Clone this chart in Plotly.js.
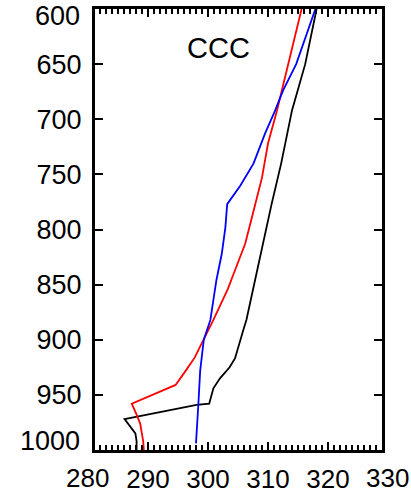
<!DOCTYPE html>
<html>
<head>
<meta charset="utf-8">
<script src="https://cdn.plot.ly/plotly-3.0.1.min.js"></script>
<style>
  html, body { margin: 0; padding: 0; background: #fff; }
  #chart { width: 411px; height: 496px; }
</style>
</head>
<body>
<div id="chart"></div>
<script>
// Potential temperature profiles (K) against pressure (hPa)
const presBlack  = [600, 650, 692, 740, 777, 813, 849, 882, 891, 900, 917, 925, 935, 944, 953, 958, 959, 972, 985, 992, 1000];
const thetaBlack = [318.1, 316.2, 314.0, 312.2, 310.6, 309.2, 307.8, 306.4, 305.9, 305.4, 304.5, 303.6, 302.0, 300.9, 300.4, 300.2, 298.1, 286.1, 287.9, 288.1, 288.1];

const presRed  = [600, 650, 692, 722, 753, 783, 813, 837, 854, 882, 900, 916, 928, 941, 947, 958, 968, 976, 992, 1000];
const thetaRed = [315.6, 313.4, 311.5, 310.0, 309.0, 307.6, 306.2, 304.5, 303.3, 300.9, 299.2, 297.8, 296.3, 294.6, 292.0, 287.3, 288.1, 288.7, 289.2, 289.3];

const presBlue  = [600, 650, 674, 692, 713, 740, 760, 777, 798, 822, 846, 866, 882, 900, 928, 958, 994];
const thetaBlue = [317.9, 314.7, 312.5, 311.2, 309.5, 307.6, 305.4, 303.2, 302.9, 302.3, 301.4, 300.9, 300.4, 299.3, 298.7, 298.4, 298.0];

// Axis labelling
const xLabels = ['280', '290', '300', '310', '320', '330'];
const xMinorVals = [282, 283, 284, 285, 286, 287, 288, 289, 291, 292, 293, 294, 295, 296, 297, 298, 299,
                    301, 302, 303, 304, 305, 306, 307, 308, 309, 311, 312, 313, 314, 315, 316, 317, 318, 319,
                    321, 322, 323, 324, 325, 326, 327, 328];
const yTicks  = [600, 650, 700, 750, 800, 850, 900, 950, 1000];
const yLabels = ['', '650', '700', '750', '800', '850', '900', '950', ''];
const yEndLabels = ['600', '1000'];
const panelLabel = 'CCC';

const lineW = 1.8;
const traces = [
  { x: thetaBlack, y: presBlack, mode: 'lines', line: { color: '#000000', width: lineW } },
  { x: thetaRed,   y: presRed,   mode: 'lines', line: { color: '#ff0000', width: lineW } },
  { x: thetaBlue,  y: presBlue,  mode: 'lines', line: { color: '#0000ff', width: lineW } }
];

const fam = 'Liberation Sans, Arial, sans-serif';
const xFont = { family: fam, size: 26, color: '#000' };
const yFont = { family: fam, size: 27, color: '#000' };

// the outermost labels sit just beyond the framed range, so they are placed by hand
const edgeAnn = (text, x, y, xanchor, font) => ({
  text: text, x: x, y: y, xref: 'paper', yref: 'paper',
  xanchor: xanchor, yanchor: 'middle', showarrow: false, font: font
});

const layout = {
  width: 411,
  height: 496,
  margin: { l: 95, r: 29, t: 9, b: 46, pad: 0 },
  paper_bgcolor: '#fff',
  plot_bgcolor: '#fff',
  showlegend: false,
  xaxis: {
    range: [281.17, 329.0],
    tickmode: 'linear',
    tick0: 280,
    dtick: 10,
    ticks: 'inside',
    ticklen: 8,
    tickwidth: 2,
    tickcolor: '#000',
    minor: { tickmode: 'array', tickvals: xMinorVals, ticks: 'inside', ticklen: 5, tickwidth: 1.5, tickcolor: '#000', showgrid: false },
    showline: true,
    linewidth: 3,
    linecolor: '#000',
    mirror: 'allticks',
    showgrid: false,
    zeroline: false,
    tickfont: xFont,
    ticklabelstandoff: 4
  },
  yaxis: {
    range: [1000, 600],
    tickmode: 'array',
    tickvals: yTicks,
    ticktext: yLabels,
    ticks: 'inside',
    ticklen: 8,
    tickwidth: 2,
    tickcolor: '#000',
    showline: true,
    linewidth: 3,
    linecolor: '#000',
    mirror: 'allticks',
    showgrid: false,
    zeroline: false,
    tickfont: yFont,
    ticklabelstandoff: 5
  },
  annotations: [
    {
      text: panelLabel,
      x: 301.8, y: 635, xref: 'x', yref: 'y',
      showarrow: false,
      font: { family: fam, size: 29, color: '#000' }
    },
    edgeAnn(xLabels[0], -0.0244, -0.0624, 'center', xFont),
    edgeAnn(xLabels[5], 1.0209, -0.0624, 'center', xFont),
    edgeAnn(yEndLabels[0], -0.0453, 0.984, 'right', yFont),
    edgeAnn(yEndLabels[1], -0.0453, 0.0204, 'right', yFont)
  ]
};

Plotly.newPlot('chart', traces, layout, { displayModeBar: false, staticPlot: true });
</script>
</body>
</html>
